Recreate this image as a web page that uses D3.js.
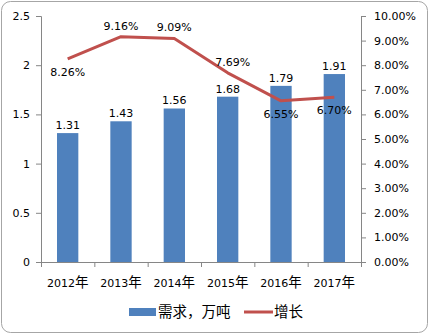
<!DOCTYPE html>
<html><head><meta charset="utf-8">
<script src="https://cdn.jsdelivr.net/npm/d3@7"></script>
<style>body{margin:0;background:#fff}svg{display:block}</style>
</head><body>
<svg id="c" width="429" height="335"></svg>
<script>
const years = ["2012","2013","2014","2015","2016","2017"];
const demand = [1.31, 1.43, 1.56, 1.68, 1.79, 1.91];
const growth = [0.0826, 0.0916, 0.0909, 0.0769, 0.0655, 0.0670];
const growthLabelPos = ["below","above","above","aboveRight","below","below"];
const leftTicks = [0, 0.5, 1, 1.5, 2, 2.5];
const rightTicks = [0,0.01,0.02,0.03,0.04,0.05,0.06,0.07,0.08,0.09,0.10];
const seriesNames = ["需求，万吨", "增长"];

const svg = d3.select("#c");
const L = 41, R = 361, T = 16, B = 262;
const num = "'DejaVu Sans', 'Noto Sans CJK SC', sans-serif";
const cjk = "'Noto Sans CJK SC', sans-serif";
const axisCol = "#868686";

svg.append("rect").attr("x",1.5).attr("y",1.5).attr("width",426).attr("height",331)
  .attr("rx",9).attr("fill","#fff").attr("stroke","#a6a6a6").attr("stroke-width",1);

const x = d3.scaleBand().domain(years).range([L,R]).paddingInner(0.6).paddingOuter(0.3);
const y = d3.scaleLinear().domain([0,2.5]).range([B,T]);
const y2 = d3.scaleLinear().domain([0,0.10]).range([B,T]);

// bars
svg.append("g").selectAll("rect").data(demand).join("rect")
  .attr("x",(d,i)=>x(years[i])).attr("y",d=>y(d))
  .attr("width",x.bandwidth()).attr("height",d=>B-y(d)).attr("fill","#4F81BD");

// axes
const gl = svg.append("g").attr("transform",`translate(${L},0)`)
  .call(d3.axisLeft(y).tickValues(leftTicks).tickFormat(d3.format("")).tickSize(5).tickPadding(6));
const gr = svg.append("g").attr("transform",`translate(${R},0)`)
  .call(d3.axisRight(y2).tickValues(rightTicks).tickFormat(d3.format(".2%")).tickSize(5).tickPadding(8));
const xs = d3.scalePoint().domain(d3.range(7)).range([L,R]);
const gx = svg.append("g").attr("transform",`translate(0,${B})`)
  .call(d3.axisBottom(xs).tickFormat("").tickSize(5));
[gl,gr,gx].forEach(g=>{
  g.select(".domain").attr("stroke",axisCol);
  g.selectAll(".tick line").attr("stroke",axisCol);
  g.selectAll("text").attr("fill","#000").attr("font-family",num).attr("font-size",11);
});

// x labels
const xl = svg.append("g").selectAll("text").data(years).join("text")
  .attr("x",d=>x(d)+x.bandwidth()/2).attr("y",287).attr("text-anchor","middle")
  .attr("font-family",num).attr("font-size",11).attr("fill","#000");
xl.append("tspan").text(d=>d);
xl.append("tspan").attr("font-family",cjk).attr("font-size",13.5).text("年");

// bar labels
svg.append("g").selectAll("text").data(demand).join("text")
  .attr("x",(d,i)=>x(years[i])+x.bandwidth()/2).attr("y",d=>y(d)-4)
  .attr("text-anchor","middle").attr("font-family",num).attr("font-size",11)
  .text(d=>d3.format(".2f")(d));

// line
const cx = i => x(years[i])+x.bandwidth()/2;
svg.append("path").datum(growth)
  .attr("d",d3.line().x((d,i)=>cx(i)).y(d=>y2(d)))
  .attr("fill","none").attr("stroke","#C0504D").attr("stroke-width",3).attr("stroke-linejoin","round");

svg.append("g").selectAll("text").data(growth).join("text")
  .attr("x",(d,i)=>cx(i) + (growthLabelPos[i]==="aboveRight"?5:0))
  .attr("y",(d,i)=>y2(d) + (growthLabelPos[i]==="below"?17:-7))
  .attr("text-anchor","middle").attr("font-family",num).attr("font-size",11)
  .text(d=>d3.format(".2%")(d));

// legend
const lg = svg.append("g");
lg.append("rect").attr("x",129).attr("y",308).attr("width",27).attr("height",8).attr("fill","#4F81BD");
lg.append("text").attr("x",158).attr("y",317).attr("font-family",cjk).attr("font-size",14.5).text(seriesNames[0]);
lg.append("line").attr("x1",244).attr("x2",273).attr("y1",312).attr("y2",312)
  .attr("stroke","#C0504D").attr("stroke-width",3);
lg.append("text").attr("x",274).attr("y",317).attr("font-family",cjk).attr("font-size",14.5).text(seriesNames[1]);
</script>
</body></html>
